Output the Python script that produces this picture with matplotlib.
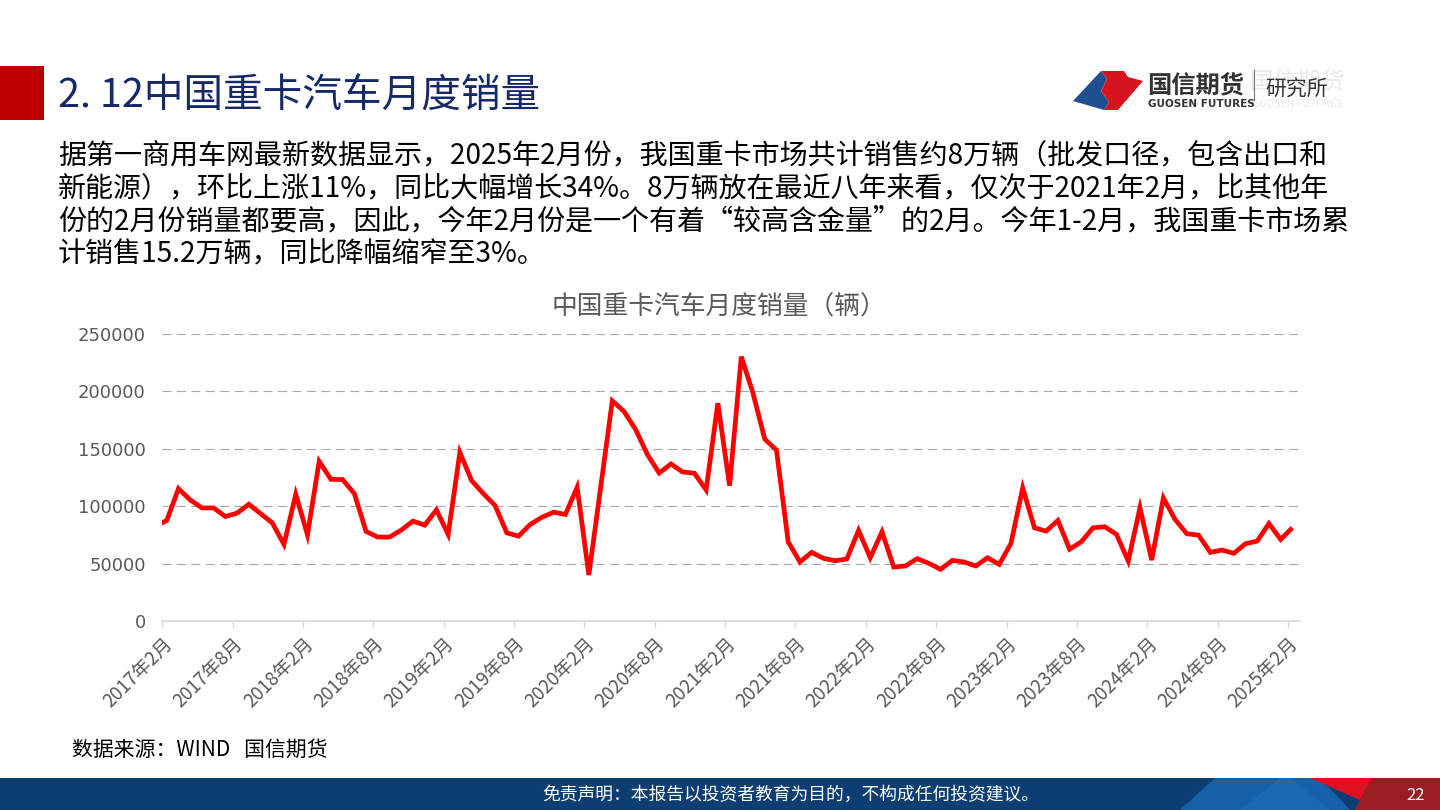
import numpy as np
import matplotlib
matplotlib.use('Agg')
import matplotlib.pyplot as plt
from matplotlib.patches import Rectangle, Polygon

# ---------------- data ----------------
# monthly heavy-truck sales, 2017-01 .. 2025-02 (2017-01 falls just outside the visible axis)
sales = [
    82600, 87500, 115300, 105500, 98500, 98500, 91000, 94000, 101700, 93600, 85500, 66700,   # 2017
    110400, 75100, 139000, 123400, 123200, 111000, 78000, 73100, 73100, 79200, 87000, 83500,  # 2018
    96800, 75400, 146900, 122300, 111000, 100600, 76800, 73900, 84100, 90400, 94800, 92800,   # 2019
    116500, 40100, 116000, 191800, 182500, 166600, 144900, 128900, 136800, 129800, 128700, 114200,  # 2020
    189700, 117900, 230300, 198400, 158500, 148900, 69000, 51400, 59800, 54600, 52500, 54000,  # 2021
    78900, 55100, 77700, 47000, 47900, 54300, 50200, 45000, 52800, 51400, 47900, 55100,       # 2022
    49300, 67600, 115900, 81200, 78300, 87600, 62500, 69000, 81200, 82100, 75400, 52200,      # 2023
    98600, 53100, 107200, 88400, 76000, 74800, 59800, 61800, 58900, 67300, 69600, 84900,      # 2024
    71100, 81200,                                                                             # 2025
]
tick_labels = ['2017年2月', '2017年8月', '2018年2月', '2018年8月', '2019年2月', '2019年8月',
               '2020年2月', '2020年8月', '2021年2月', '2021年8月', '2022年2月', '2022年8月',
               '2023年2月', '2023年8月', '2024年2月', '2024年8月', '2025年2月']
y_ticks = [0, 50000, 100000, 150000, 200000, 250000]

title = '2. 12中国重卡汽车月度销量'
chart_title = '中国重卡汽车月度销量（辆）'
paragraph = [
    '据第一商用车网最新数据显示，2025年2月份，我国重卡市场共计销售约8万辆（批发口径，包含出口和',
    '新能源），环比上涨11%，同比大幅增长34%。8万辆放在最近八年来看，仅次于2021年2月，比其他年',
    '份的2月份销量都要高，因此，今年2月份是一个有着“较高含金量”的2月。今年1-2月，我国重卡市场累',
    '计销售15.2万辆，同比降幅缩窄至3%。',
]
source = '数据来源：WIND   国信期货'
disclaimer = '免责声明：本报告以投资者教育为目的，不构成任何投资建议。'
page_no = '22'

# ---------------- figure ----------------
plt.rcParams['font.family'] = ['Noto Sans CJK SC', 'DejaVu Sans']
W, H = 1440, 810
fig = plt.figure(figsize=(W / 100, H / 100), dpi=100)
fig.patch.set_facecolor('white')

bg = fig.add_axes([0, 0, 1, 1])
bg.set_xlim(0, W)
bg.set_ylim(H, 0)
bg.axis('off')

# header block + title
bg.add_patch(Rectangle((0, 66), 44, 54, color='#C00000', lw=0))
bg.text(58, 97, title, fontsize=28.5, color='#14286A', va='center', ha='left')

# logo
bg.add_patch(Polygon([(1073, 101), (1101, 71), (1107, 79), (1101, 91), (1109, 102), (1104, 110)],
                     closed=True, color='#1D4F91', lw=0))
bg.add_patch(Polygon([(1101, 71), (1124, 71), (1128, 77), (1143, 81), (1118, 110), (1104, 110),
                      (1109, 102), (1101, 91), (1107, 79)], closed=True, color='#D7141E', lw=0))
bg.text(1250, 82, '国信期货', fontsize=17, color='#EBEBEB', va='center', ha='left', zorder=0)
bg.text(1252, 104, 'GUOSEN FUTURES', fontsize=7.5, color='#EBEBEB', va='center', ha='left', zorder=0)
bg.text(1147, 85, '国信期货', fontsize=17.5, color='#333333', va='center', ha='left', fontweight='bold')
bg.text(1148, 104, 'GUOSEN FUTURES', fontsize=7.5, color='#333333', va='center', ha='left',
        fontweight='bold', family='DejaVu Sans')
bg.plot([1254, 1254], [70, 100], color='#777777', lw=0.8)
bg.text(1265, 89, '研究所', fontsize=15, color='#333333', va='center', ha='left', zorder=5)

# paragraph
for i, line in enumerate(paragraph):
    bg.text(58, 155 + 33 * i, line, fontsize=20.2, color='#000000', va='center', ha='left')

# source
bg.text(72, 750, source, fontsize=15, color='#000000', va='center', ha='left')

# footer
bg.add_patch(Rectangle((0, 778), W, 32, color='#0D3E73', lw=0))
bg.add_patch(Polygon([(1180, 810), (1215, 778), (1290, 778), (1330, 810)], closed=True,
                     color='#1660A8', lw=0))
bg.add_patch(Polygon([(1240, 810), (1280, 778), (1320, 778), (1350, 810)], closed=True,
                     color='#1A6BB8', lw=0, alpha=0.8))
bg.add_patch(Polygon([(1310, 778), (1372, 778), (1360, 800)], closed=True, color='#E01020', lw=0))
bg.add_patch(Polygon([(1372, 778), (W, 778), (W, 810), (1355, 810), (1360, 800)], closed=True,
                     color='#9B1C22', lw=0))
bg.text(791, 795, disclaimer, fontsize=12.8, color='white', va='center', ha='center')
bg.text(1416, 795, page_no, fontsize=12, color='white', va='center', ha='center')

# chart title
bg.text(719, 308, chart_title, fontsize=18.5, color='#595959', va='center', ha='center')

# ---------------- chart ----------------
x0_px, x1_px, ytop_px, ybot_px = 162.3, 1300, 334, 621
ax = fig.add_axes([x0_px / W, 1 - ybot_px / H, (x1_px - x0_px) / W, (ybot_px - ytop_px) / H])
ax.patch.set_alpha(0)

pos = np.arange(len(sales))
ax.plot(pos, sales, color='#FF0000', lw=3.4, solid_joinstyle='miter', solid_capstyle='butt',
        clip_on=True, zorder=3)

tick_pos = 0.62 + 6 * np.arange(len(tick_labels))
ax.set_xlim(0.62, 97.65)
ax.set_ylim(0, 250000)

ax.set_yticks(y_ticks)
ax.set_yticklabels([str(v) for v in y_ticks], family='DejaVu Sans', fontsize=13, color='#595959')
ax.tick_params(axis='y', length=0, pad=12)
ax.yaxis.grid(True, color='#A6A6A6', lw=0.8, linestyle=(0, (8, 5)))
ax.set_axisbelow(True)

ax.set_xticks(tick_pos)
ax.set_xticklabels(tick_labels, rotation=45, ha='right', va='top', rotation_mode='anchor',
                   fontsize=13.5, color='#595959')
ax.tick_params(axis='x', length=5, width=1, color='#D9D9D9', pad=4)

for s in ['top', 'right', 'left']:
    ax.spines[s].set_visible(False)
ax.spines['bottom'].set_color('#D9D9D9')
ax.spines['bottom'].set_linewidth(1.2)

fig.savefig('out.png', dpi=100, facecolor='white')
